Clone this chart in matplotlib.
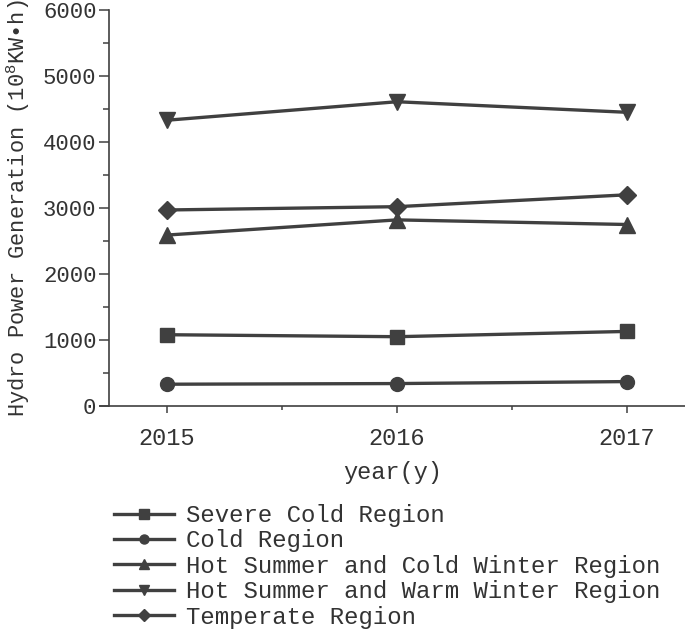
import matplotlib
matplotlib.use("Agg")
import matplotlib.pyplot as plt
from matplotlib.ticker import MultipleLocator

years = [2015, 2016, 2017]
severe_cold = [1080, 1050, 1130]
cold = [330, 340, 370]
hot_summer_cold_winter = [2590, 2820, 2750]
hot_summer_warm_winter = [4330, 4610, 4450]
temperate = [2970, 3020, 3200]

labels = ['Severe Cold Region', 'Cold Region', 'Hot Summer and Cold Winter Region',
          'Hot Summer and Warm Winter Region', 'Temperate Region']

plt.rcParams['font.family'] = ['Liberation Mono', 'DejaVu Sans']
plt.rcParams['mathtext.fontset'] = 'custom'
plt.rcParams['mathtext.rm'] = 'Liberation Mono'

c = '#404040'
fig = plt.figure(figsize=(6.85, 6.32), dpi=100)
ax = fig.add_axes([100 / 685, 1 - 406 / 632, 585 / 685, 396 / 632])

series = [severe_cold, cold, hot_summer_cold_winter, hot_summer_warm_winter, temperate]
markers = ['s', 'o', '^', 'v', 'D']
sizes = [10, 10, 11, 11, 9]
for vals, m, ms, lab in zip(series, markers, sizes, labels):
    ax.plot(years, vals, color=c, lw=2.4, marker=m, ms=ms, label=lab)

ax.set_xlim(2014.709, 2017.252)
ax.set_ylim(0, 6000)
ax.spines['left'].set_position(('data', 2014.748))
ax.spines['top'].set_visible(False)
ax.spines['right'].set_visible(False)
for s in ['left', 'bottom']:
    ax.spines[s].set_color(c)
    ax.spines[s].set_linewidth(1.2)

ax.set_xticks(years)
ax.set_xticklabels([str(y) for y in years])
ax.xaxis.set_minor_locator(MultipleLocator(0.5))
ax.yaxis.set_major_locator(MultipleLocator(1000))
ax.yaxis.set_minor_locator(MultipleLocator(500))
ax.tick_params(axis='both', which='both', direction='out', color=c, width=1.1,
               labelcolor='#333333')
ax.tick_params(axis='y', which='major', length=7, pad=2, labelsize=16)
ax.tick_params(axis='y', which='minor', length=4)
ax.tick_params(axis='x', which='major', length=5, pad=10, labelsize=17)
ax.tick_params(axis='x', which='minor', length=3)

ax.set_xlabel('year(y)', fontsize=17, color='#333333', labelpad=8)
ax.set_ylabel('Hydro Power Generation (10$^8$KW\u2022h)', fontsize=15.8,
              color='#333333', labelpad=8)

fig.legend(loc='upper left', bbox_to_anchor=(114 / 685, 1 - 504 / 632),
           frameon=False, fontsize=17.3, handlelength=2.5, handletextpad=0.5,
           labelspacing=0.1, markerscale=0.65, labelcolor='#333333',
           borderaxespad=0, borderpad=0)

fig.savefig('out.png', dpi=100)
